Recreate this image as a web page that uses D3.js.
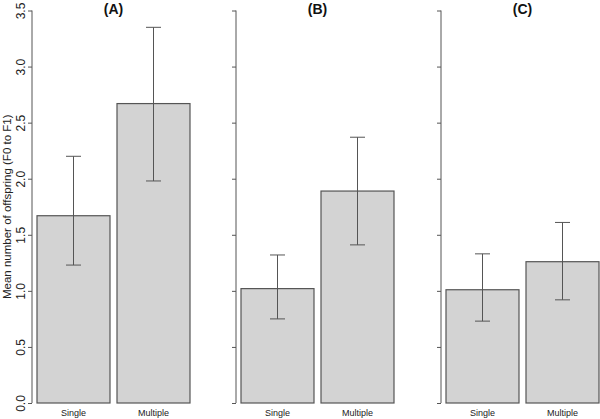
<!DOCTYPE html>
<html><head><meta charset="utf-8">
<script src="https://cdn.jsdelivr.net/npm/d3@7"></script>
<style>body{margin:0;background:#fff}svg{display:block}</style>
</head><body>
<svg id="c" width="600" height="419"></svg>
<script>
const panels = ["(A)", "(B)", "(C)"];
const categories = ["Single", "Multiple"];
const meansA = [1.67, 2.67];
const lowA = [1.23, 1.98];
const highA = [2.20, 3.35];
const meansB = [1.02, 1.89];
const lowB = [0.75, 1.41];
const highB = [1.32, 2.37];
const meansC = [1.01, 1.26];
const lowC = [0.73, 0.92];
const highC = [1.33, 1.61];
const yTicks = [0, 0.5, 1, 1.5, 2, 2.5, 3, 3.5];

const means = [meansA, meansB, meansC];
const lows = [lowA, lowB, lowC];
const highs = [highA, highB, highC];

const svg = d3.select("#c");
const font = "Liberation Sans, Arial, Helvetica, sans-serif";
const axisCol = "#555";
const y = d3.scaleLinear().domain([0, 3.5]).range([403, 10.5]);
const axisX = [32, 236, 441];

panels.forEach((p, i) => {
  const x0 = axisX[i];
  const x = d3.scaleBand().domain(categories).range([x0 + 5, x0 + 158]).paddingInner(0.0875).paddingOuter(0);
  const g = svg.append("g");
  const ax = g.append("g").attr("transform", `translate(${x0},0)`)
    .call(d3.axisLeft(y).tickValues(yTicks).tickSize(4).tickFormat(i === 0 ? d3.format(".1f") : () => ""));
  ax.select(".domain").attr("stroke", axisCol).attr("d", `M-0,${y(0)}V${y(3.5)}`);
  ax.selectAll(".tick line").attr("stroke", axisCol);
  ax.selectAll(".tick text").attr("font-family", font).attr("font-size", 12).attr("fill", "#222")
    .attr("text-anchor", "middle").attr("dy", 0)
    .attr("transform", "rotate(-90)").attr("x", 0).attr("y", -7);

  g.selectAll("rect.bar").data(categories).enter().append("rect")
    .attr("x", d => x(d)).attr("width", x.bandwidth())
    .attr("y", (d, j) => y(means[i][j])).attr("height", (d, j) => y(0) - y(means[i][j]))
    .attr("fill", "#d3d3d3").attr("stroke", axisCol).attr("stroke-width", 1.2);

  categories.forEach((c, j) => {
    const cx = x(c) + x.bandwidth() / 2;
    const e = g.append("g").attr("stroke", axisCol).attr("stroke-width", 1);
    e.append("line").attr("x1", cx).attr("x2", cx).attr("y1", y(lows[i][j])).attr("y2", y(highs[i][j]));
    e.append("line").attr("x1", cx - 7.5).attr("x2", cx + 7.5).attr("y1", y(lows[i][j])).attr("y2", y(lows[i][j]));
    e.append("line").attr("x1", cx - 7.5).attr("x2", cx + 7.5).attr("y1", y(highs[i][j])).attr("y2", y(highs[i][j]));
    g.append("text").attr("x", cx).attr("y", 416).attr("text-anchor", "middle")
      .attr("font-family", font).attr("font-size", 9).attr("fill", "#222").text(c);
  });

  g.append("text").attr("x", x0 + 81.5).attr("y", 14).attr("text-anchor", "middle")
    .attr("font-family", font).attr("font-size", 14).attr("font-weight", "bold").attr("fill", "#111").text(p);
});

svg.append("text").attr("transform", `translate(11,${y(1.75)}) rotate(-90)`).attr("text-anchor", "middle")
  .attr("font-family", font).attr("font-size", 11.5).attr("fill", "#222")
  .text("Mean number of offspring (F0 to F1)");
</script>
</body></html>
